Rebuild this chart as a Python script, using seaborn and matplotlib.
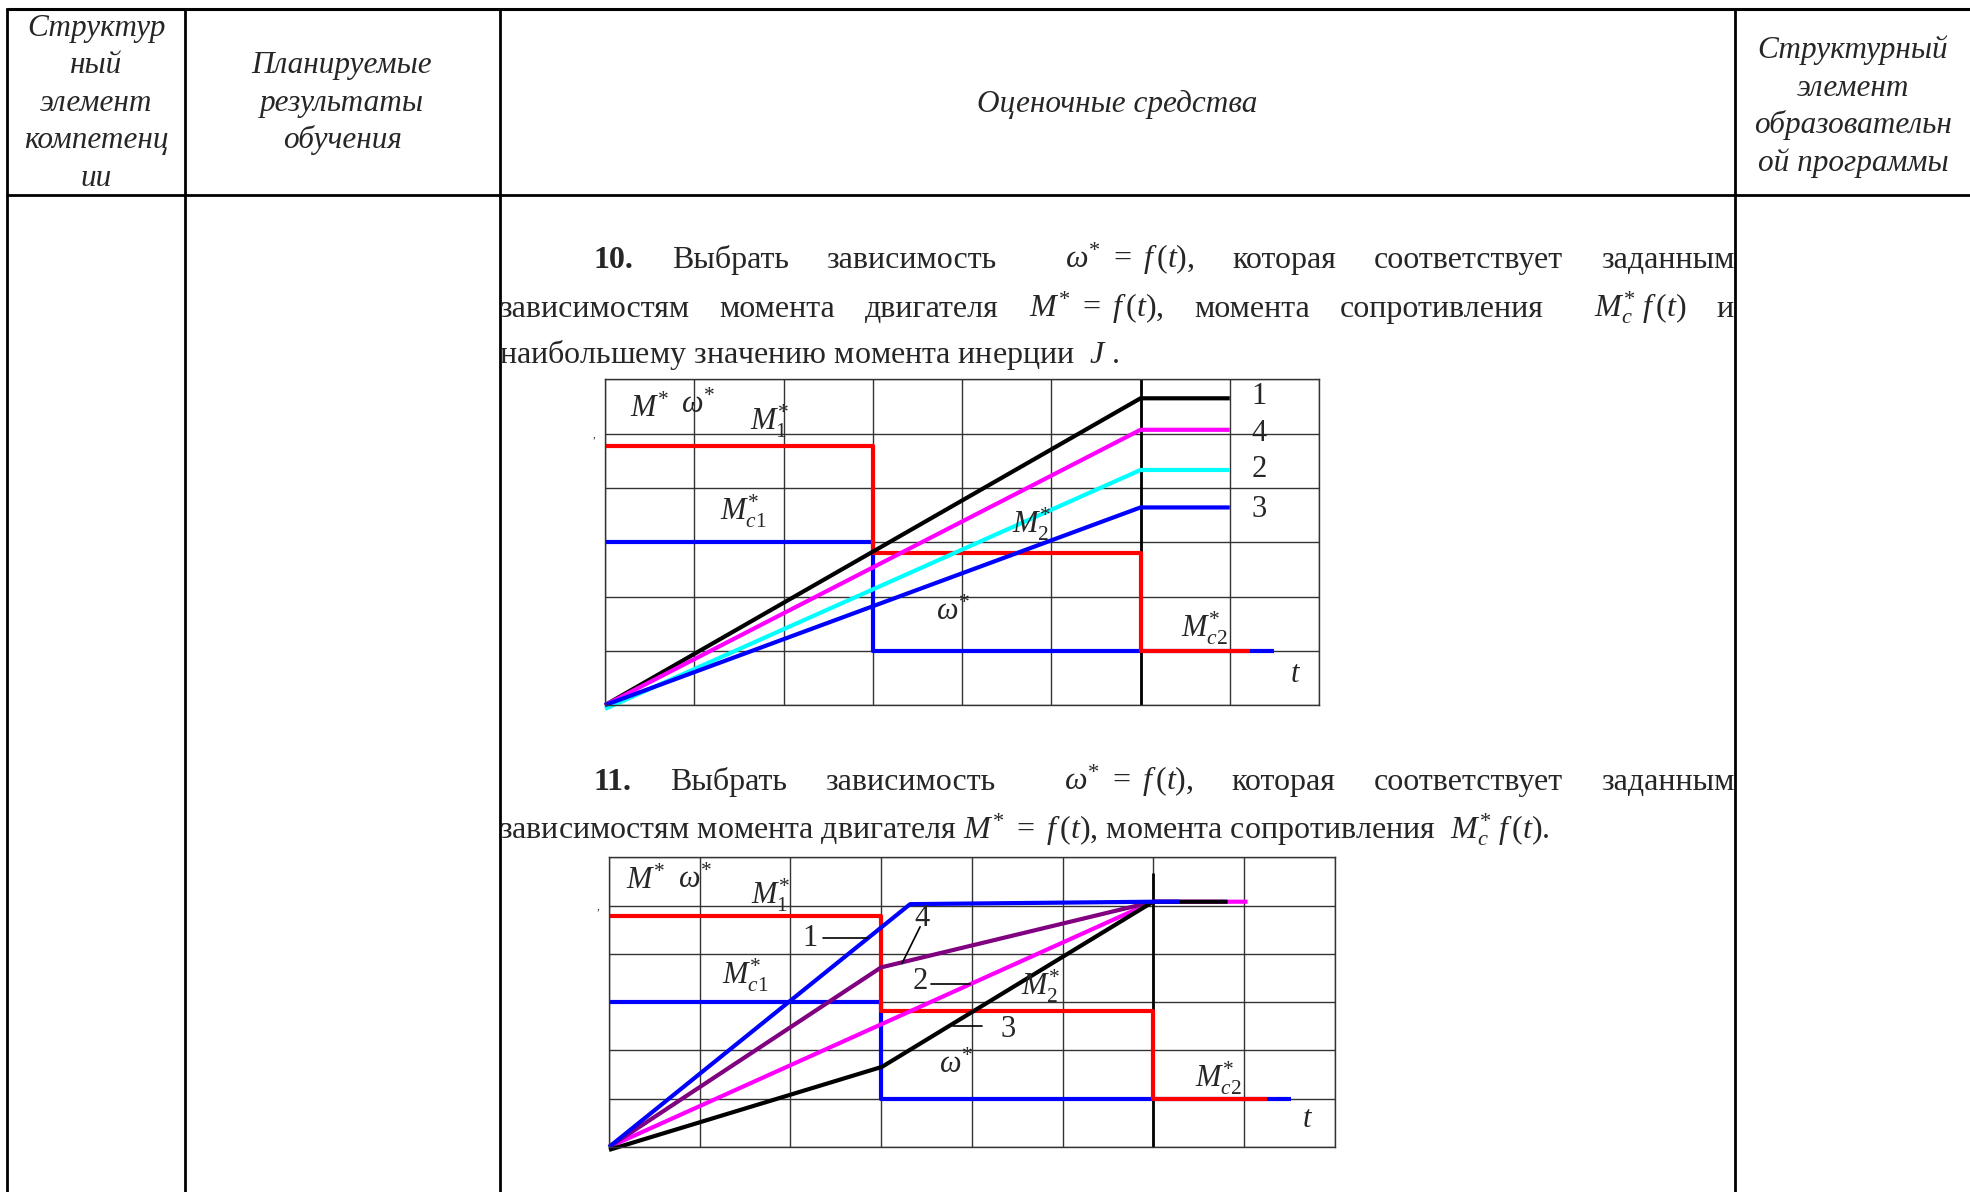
import numpy as np
import pandas as pd
import seaborn as sns
import matplotlib
matplotlib.use('Agg')
import matplotlib.pyplot as plt

# chart for question 10 (grid units: 8 x 6 cells)
q10_M_t = [0, 3, 3, 6, 6, 7.23]
q10_M_v = [4.78, 4.78, 2.81, 2.81, 1.0, 1.0]
q10_Mc_t = [0, 3, 3, 7.5]
q10_Mc_v = [3.0, 3.0, 1.0, 1.0]
q10_w_t = [0, 6, 7.0]
q10_w1 = [0, 5.65, 5.65]
q10_w4 = [0, 5.07, 5.07]
q10_w2 = [-0.07, 4.33, 4.33]
q10_w3 = [0, 3.64, 3.64]

# chart for question 11
q11_M_t = [0, 3, 3, 6, 6, 7.25]
q11_M_v = [4.79, 4.79, 2.81, 2.81, 1.0, 1.0]
q11_Mc_t = [0, 3, 3, 7.52]
q11_Mc_v = [3.0, 3.0, 1.0, 1.0]
q11_w1_t = [0, 3.32, 6, 6.29]
q11_w1 = [0, 5.03, 5.08, 5.08]
q11_w4_t = [0, 3.0, 6]
q11_w4 = [0, 3.72, 5.08]
q11_w2_t = [0, 6, 7.04]
q11_w2 = [0, 5.08, 5.08]
q11_w3_t = [0, 3.01, 6, 6.82]
q11_w3 = [-0.06, 1.66, 5.08, 5.08]

RED, BLUE, BLACK = '#ff0000', '#0000ff', '#000000'
MAGENTA, CYAN, PURPLE = '#ff00ff', '#00ffff', '#800080'

sns.set_style('white')
plt.rcParams['font.family'] = ['Liberation Serif', 'DejaVu Serif']
plt.rcParams['mathtext.fontset'] = 'custom'
plt.rcParams['mathtext.rm'] = 'Liberation Serif'
plt.rcParams['mathtext.it'] = 'Liberation Serif:italic'
plt.rcParams['mathtext.bf'] = 'Liberation Serif:bold'

W, H = 1970, 1192
fig = plt.figure(figsize=(W / 100, H / 100), dpi=100)
ax0 = fig.add_axes([0, 0, 1, 1])
ax0.set_xlim(0, W)
ax0.set_ylim(H, 0)
ax0.axis('off')
rend = fig.canvas.get_renderer()

# table frame
lw_t = 2.0
ax0.plot([7, 1972], [9, 9], color='k', lw=2.2)
ax0.plot([7, 1972], [195, 195], color='k', lw=lw_t)
for x in [7, 185, 500, 1735]:
    ax0.plot([x, x], [9, H], color='k', lw=lw_t)

hdr = dict(fontsize=22.5, style='italic', ha='center', va='baseline')
for txt, y in zip(['Структур', 'ный', 'элемент', 'компетенц', 'ии'],
                  [36, 73, 111, 148, 186]):
    ax0.text(96, y, txt, **hdr)
for txt, y in zip(['Планируемые', 'результаты', 'обучения'], [73, 111, 148]):
    ax0.text(342, y, txt, **hdr)
ax0.text(1117, 112, 'Оценочные средства', **hdr)
for txt, y in zip(['Структурный', 'элемент', 'образовательн', 'ой программы'],
                  [58, 96, 133, 171]):
    ax0.text(1853, y, txt, **hdr)

fs = 23


def put(x, y, s, **kw):
    return ax0.text(x, y, s, fontsize=fs, ha='left', va='baseline', **kw)


def justify(words, x_left, x_right, y, pre_gap=None):
    # place words with equal gaps so the line fills x_left..x_right
    pre_gap = pre_gap or {}
    arts = [put(x_left, y, w, **kw) for w, kw in words]
    widths = [a.get_window_extent(rend).width for a in arts]
    extra = sum(pre_gap.values())
    gap = (x_right - x_left - sum(widths) - extra) / (len(words) - 1)
    x = x_left
    for i, (a, w) in enumerate(zip(arts, widths)):
        x += pre_gap.get(i, 0)
        a.set_x(x)
        x += w + gap


omega_eq = r'$\omega^{*}\ =\ f\,(t)$,'
mc_eq = r'$M_c^{*}\ f\,(t)$'
q_words = [('10.', {'weight': 'bold'}), ('Выбрать', {}), ('зависимость', {}),
           (omega_eq, {}), ('которая', {}), ('соответствует', {}), ('заданным', {})]
justify(q_words, 594, 1734, 268, {3: 30})
l2 = [('зависимостям', {}), ('момента', {}), ('двигателя', {}),
      (r'$M^{*}\ =\ f\,(t)$,', {}), ('момента', {}), ('сопротивления', {}),
      (mc_eq, {}), ('и', {})]
justify(l2, 499, 1734, 316.7, {6: 20})
put(499, 363, r'наибольшему значению момента инерции  $J$ .')

q_words[0] = ('11.', {'weight': 'bold'})
justify(q_words, 594, 1734, 790, {3: 30})
put(499, 839, r'зависимостям момента двигателя $M^{*}\ =\ f\,(t)$, '
              r'момента сопротивления  ' + mc_eq + '.')


def chart(rect, curves, labels, dark_top):
    x0, y0, x1, y1 = rect
    ax = fig.add_axes([x0 / W, 1 - y1 / H, (x1 - x0) / W, (y1 - y0) / H])
    ax.set_xlim(0, 8)
    ax.set_ylim(0, 6)
    ax.set_xticks(range(9))
    ax.set_yticks(range(7))
    ax.tick_params(length=0, labelbottom=False, labelleft=False)
    ax.grid(True, color='#333333', lw=1.0)
    for sp in ax.spines.values():
        sp.set_color('#333333')
        sp.set_linewidth(1.0)
    ax.plot([6, 6], [0, dark_top], color='k', lw=2.0, zorder=1.5)
    for t, v, c in curves:
        df = pd.DataFrame({'t': t, 'v': v})
        sns.lineplot(data=df, x='t', y='v', ax=ax, color=c, lw=3.0,
                     sort=False, estimator=None, legend=False)
    for ln in ax.lines:
        ln.set_clip_on(False)
        ln.set_solid_capstyle('butt')
    ax.set_xlabel('')
    ax.set_ylabel('')
    for x, y, s, size in labels:
        ax.text(x, y, s, fontsize=size, ha='center', va='center', clip_on=False)
    ax.text(-0.12, 4.98, ',', fontsize=8, ha='center', va='center')
    return ax


lbl = 22
num = 22
ax1 = chart((605, 379.3, 1319, 705.1),
            [(q10_Mc_t, q10_Mc_v, BLUE), (q10_M_t, q10_M_v, RED),
             (q10_w_t, q10_w1, BLACK), (q10_w_t, q10_w4, MAGENTA),
             (q10_w_t, q10_w2, CYAN), (q10_w_t, q10_w3, BLUE)],
            [(0.5, 5.45, r'$M^{*}$', lbl), (1.05, 5.52, r'$\omega^{*}$', lbl),
             (1.85, 5.22, r'$M_1^{*}$', lbl), (1.55, 3.56, r'$M_{c1}^{*}$', lbl),
             (4.78, 3.32, r'$M_2^{*}$', lbl), (3.9, 1.7, r'$\omega^{*}$', lbl),
             (6.72, 1.42, r'$M_{c2}^{*}$', lbl), (7.74, 0.57, r'$t$', lbl),
             (7.33, 5.68, '1', num), (7.33, 5.01, '4', num),
             (7.33, 4.33, '2', num), (7.33, 3.6, '3', num)],
            6.0)

ax2 = chart((609, 857.3, 1334.6, 1147),
            [(q11_Mc_t, q11_Mc_v, BLUE), (q11_M_t, q11_M_v, RED),
             (q11_w2_t, q11_w2, MAGENTA), (q11_w4_t, q11_w4, PURPLE),
             (q11_w3_t, q11_w3, BLACK), (q11_w1_t, q11_w1, BLUE)],
            [(0.4, 5.5, r'$M^{*}$', lbl), (0.95, 5.53, r'$\omega^{*}$', lbl),
             (1.78, 5.22, r'$M_1^{*}$', lbl), (1.5, 3.56, r'$M_{c1}^{*}$', lbl),
             (4.76, 3.32, r'$M_2^{*}$', lbl), (3.83, 1.7, r'$\omega^{*}$', lbl),
             (6.72, 1.42, r'$M_{c2}^{*}$', lbl), (7.7, 0.56, r'$t$', lbl),
             (2.22, 4.32, '1', num), (3.45, 4.73, '4', num),
             (3.43, 3.42, '2', num), (4.4, 2.44, '3', num)],
            5.67)
# leader lines for the curve numbers in chart 11
for xs, ys in [([2.36, 2.86], [4.32, 4.32]), ([3.43, 3.23], [4.56, 3.8]),
               ([3.55, 3.98], [3.37, 3.37]), ([3.79, 4.11], [2.5, 2.5])]:
    ax2.plot(xs, ys, color='k', lw=1.2)

fig.savefig('out.png', dpi=100)
